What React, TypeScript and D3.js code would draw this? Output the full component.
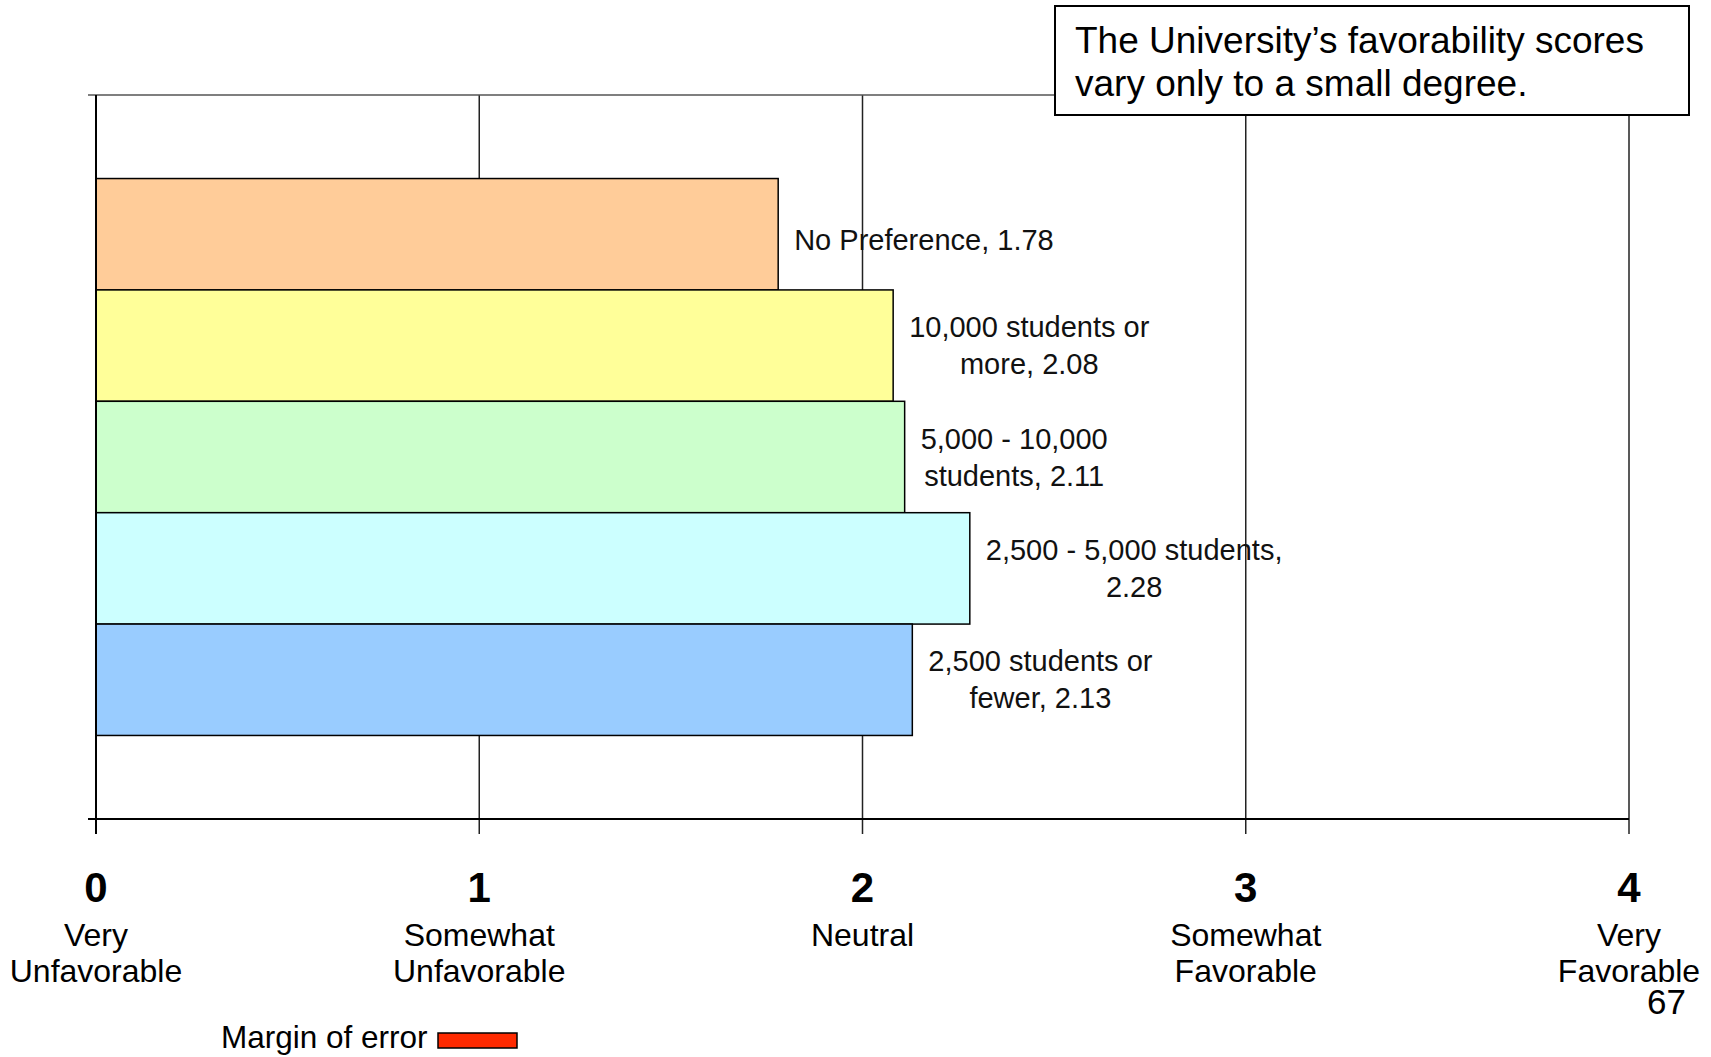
import React, { useEffect, useRef } from "react";
import * as d3 from "d3";

const categories = [
  "No Preference",
  "10,000 students or more",
  "5,000 - 10,000 students",
  "2,500 - 5,000 students",
  "2,500 students or fewer",
];
const values = [1.78, 2.08, 2.11, 2.28, 2.13];
const labelPrefixes = [
  "No Preference, ",
  "10,000 students or\nmore, ",
  "5,000 - 10,000\nstudents, ",
  "2,500 - 5,000 students,\n",
  "2,500 students or\nfewer, ",
];
const barColors = ["#FFCC99", "#FFFF99", "#CCFFCC", "#CCFFFF", "#99CCFF"];
const tickValues = [0, 1, 2, 3, 4];
const tickNames = [
  ["Very", "Unfavorable"],
  ["Somewhat", "Unfavorable"],
  ["Neutral"],
  ["Somewhat", "Favorable"],
  ["Very", "Favorable"],
];
const noteLines = ["The University\u2019s favorability scores", "vary only to a small degree."];
const legendLabel = "Margin of error";
const pageNumber = "67";

const W = 1711;
const H = 1057;
const FONT = "Arial, 'Liberation Sans', sans-serif";

export default function App() {
  const ref = useRef<SVGSVGElement>(null);

  useEffect(() => {
    const svg = d3.select(ref.current);
    svg.selectAll("*").remove();

    const x = d3.scaleLinear().domain([0, 4]).range([96, 1629]);
    const y = d3.scaleBand<string>().domain(categories).range([95, 819]).paddingInner(0).paddingOuter(0.75);
    const top = 95;
    const bottom = 819;
    const fmt = d3.format(".2f");

    // gridlines
    svg.append("g")
      .selectAll("line")
      .data(tickValues.slice(1))
      .join("line")
      .attr("x1", (d) => x(d)).attr("x2", (d) => x(d))
      .attr("y1", top).attr("y2", bottom + 15)
      .attr("stroke", "#222").attr("stroke-width", 1.5);

    // top border
    svg.append("line")
      .attr("x1", x(0) - 8).attr("x2", x(4))
      .attr("y1", top).attr("y2", top)
      .attr("stroke", "#555").attr("stroke-width", 1.5);

    // bars
    svg.append("g")
      .selectAll("rect")
      .data(categories)
      .join("rect")
      .attr("x", x(0))
      .attr("y", (d) => y(d)!)
      .attr("width", (_d, i) => x(values[i]) - x(0))
      .attr("height", y.bandwidth())
      .attr("fill", (_d, i) => barColors[i])
      .attr("stroke", "#000")
      .attr("stroke-width", 1.5);

    // axes lines
    svg.append("line")
      .attr("x1", x(0)).attr("x2", x(0))
      .attr("y1", top).attr("y2", bottom + 15)
      .attr("stroke", "#000").attr("stroke-width", 2);
    svg.append("line")
      .attr("x1", x(0) - 8).attr("x2", x(4))
      .attr("y1", bottom).attr("y2", bottom)
      .attr("stroke", "#000").attr("stroke-width", 2);

    // data labels
    const lineH = 37;
    const labG = svg.append("g").attr("font-family", FONT).attr("font-size", 29).attr("fill", "#111");
    categories.forEach((c, i) => {
      const lines = (labelPrefixes[i] + fmt(values[i])).split("\n");
      const cy = y(c)! + y.bandwidth() / 2 + (lines.length === 1 ? 6 : 0);
      const g = labG.append("g");
      const texts = lines.map((ln, k) =>
        g.append("text")
          .attr("y", cy + (k - (lines.length - 1) / 2) * lineH + 10)
          .attr("text-anchor", "middle")
          .text(ln)
      );
      const widths = texts.map((t) => (t.node() as SVGTextElement).getComputedTextLength());
      const bw = Math.max(...widths);
      const cx = x(values[i]) + 16 + bw / 2;
      texts.forEach((t) => t.attr("x", cx));
    });

    // tick numbers and names
    const tg = svg.append("g").attr("font-family", FONT).attr("fill", "#000").attr("text-anchor", "middle");
    tickValues.forEach((v, i) => {
      tg.append("text").attr("x", x(v)).attr("y", 902)
        .attr("font-size", 42).attr("font-weight", "bold").text(String(v));
      tickNames[i].forEach((nm, k) => {
        tg.append("text").attr("x", x(v)).attr("y", 946 + k * 36)
          .attr("font-size", 32).text(nm);
      });
    });

    // page number
    svg.append("text").attr("x", 1686).attr("y", 1014)
      .attr("text-anchor", "end").attr("font-family", FONT).attr("font-size", 35)
      .text(pageNumber);

    // legend
    svg.append("text").attr("x", 221).attr("y", 1048)
      .attr("font-family", FONT).attr("font-size", 31.5).text(legendLabel);
    svg.append("rect").attr("x", 438).attr("y", 1033).attr("width", 79).attr("height", 15)
      .attr("fill", "#FF2A00").attr("stroke", "#000").attr("stroke-width", 1.5);

    // note box
    svg.append("rect").attr("x", 1055).attr("y", 6).attr("width", 634).attr("height", 109)
      .attr("fill", "#fff").attr("stroke", "#000").attr("stroke-width", 2);
    noteLines.forEach((ln, k) => {
      svg.append("text").attr("x", 1075).attr("y", 53 + k * 43)
        .attr("font-family", FONT).attr("font-size", 37).attr("fill", "#000").text(ln);
    });
  }, []);

  return (
    <svg
      ref={ref}
      width={W}
      height={H}
      style={{ position: "absolute", left: 0, top: 0, display: "block", background: "#fff" }}
    />
  );
}
